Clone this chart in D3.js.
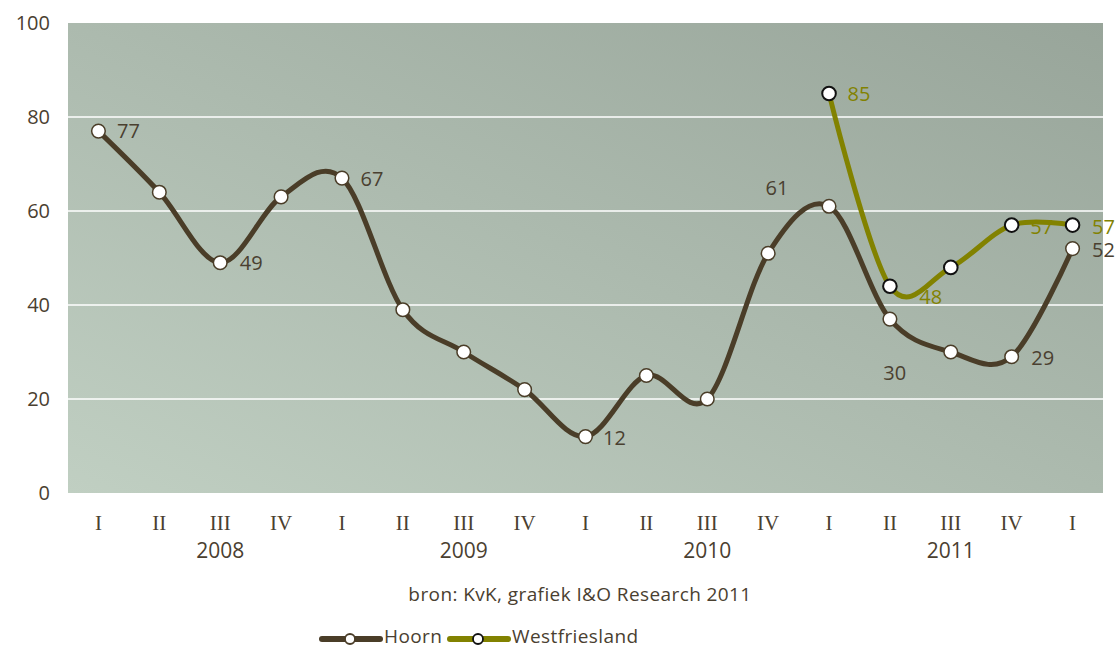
<!DOCTYPE html>
<html>
<head>
<meta charset="utf-8">
<script src="https://cdn.jsdelivr.net/npm/d3@7"></script>
<style>
  body { margin: 0; background: #fff; }
  svg { display: block; }
  .tick-y, .label { font-family: "Open Sans", sans-serif; font-size: 20px; }
  .year { font-family: "Open Sans", sans-serif; font-size: 21px; }
  .quarter { font-family: "Liberation Serif", serif; font-size: 21px; }
  .small { font-family: "Open Sans", sans-serif; font-size: 19px; letter-spacing: 0.4px; }
</style>
</head>
<body>
<svg id="chart" width="1116" height="649"></svg>
<script>
// Data
let quarters = ["I","II","III","IV","I","II","III","IV","I","II","III","IV","I","II","III","IV","I"];
let years = ["", "", "2008", "", "", "", "2009", "", "", "", "2010", "", "", "", "2011", "", ""];
let hoorn = [77, 64, 49, 63, 67, 39, 30, 22, 12, 25, 20, 51, 61, 37, 30, 29, 52];
let westfriesland = [null, null, null, null, null, null, null, null, null, null, null, null, 85, 44, 48, 57, 57];
let yTicks = [0, 20, 40, 60, 80, 100];

// Which points get a value label
let hoornLabels = [0, 2, 4, 8, 12, 14, 15, 16];
let westLabels = [12, 14, 15, 16];

// label offsets (px) relative to the point they belong to
let labelOffset = {
    hoorn: {0: [30, 0], 2: [31, 0], 4: [30, 1], 8: [29, 1], 12: [-52, -19], 14: [-56, 21], 15: [31, 1], 16: [31, 1]},
    west: {12: [30, 0], 14: [-20, 29], 15: [30, 2], 16: [31, 2]}
};

let textColor = "#4a4030";
let hoornColor = "#4a3d28";
let westColor = "#828200";

let svg = d3.select("#chart");
let plotLeft = 68, plotRight = 1103, plotTop = 23, plotBottom = 493;

let x = d3.scalePoint()
    .domain(d3.range(quarters.length))
    .range([plotLeft, plotRight])
    .padding(0.5);

let y = d3.scaleLinear()
    .domain([0, 100])
    .range([plotBottom, plotTop]);

// Background gradient
let defs = svg.append("defs");
let grad = defs.append("linearGradient")
    .attr("id", "bg")
    .attr("x1", "0%").attr("y1", "100%")
    .attr("x2", "100%").attr("y2", "0%");
grad.append("stop").attr("offset", "0%").attr("stop-color", "#c0cfc2");
grad.append("stop").attr("offset", "100%").attr("stop-color", "#98a59a");

svg.append("rect")
    .attr("x", plotLeft)
    .attr("y", plotTop)
    .attr("width", plotRight - plotLeft)
    .attr("height", plotBottom - plotTop)
    .style("fill", "url(#bg)");

// Gridlines
svg.selectAll(".grid")
    .data(yTicks.filter(function(d) { return d > 0 && d < 100; }))
    .enter().append("line")
    .attr("class", "grid")
    .attr("x1", plotLeft)
    .attr("x2", plotRight)
    .attr("y1", function(d) { return y(d); })
    .attr("y2", function(d) { return y(d); })
    .style("stroke", "#fff")
    .style("stroke-width", 1.3);

// Y tick labels
svg.selectAll(".tick-y")
    .data(yTicks)
    .enter().append("text")
    .attr("class", "tick-y")
    .attr("x", 50)
    .attr("y", function(d) { return y(d); })
    .attr("dy", "0.36em")
    .attr("text-anchor", "end")
    .style("fill", textColor)
    .text(function(d) { return d; });

// X labels
svg.selectAll(".quarter")
    .data(quarters)
    .enter().append("text")
    .attr("class", "quarter")
    .attr("x", function(d, i) { return x(i); })
    .attr("y", 530)
    .attr("text-anchor", "middle")
    .style("fill", textColor)
    .text(function(d) { return d; });

svg.selectAll(".year")
    .data(years)
    .enter().append("text")
    .attr("class", "year")
    .attr("x", function(d, i) { return x(i); })
    .attr("y", 558)
    .attr("text-anchor", "middle")
    .style("fill", textColor)
    .text(function(d) { return d; });

// Lines
let line = d3.line()
    .defined(function(d) { return d != null; })
    .x(function(d, i) { return x(i); })
    .y(function(d) { return y(d); })
    .curve(d3.curveCatmullRom.alpha(0));

svg.append("path")
    .datum(hoorn)
    .attr("d", line)
    .style("fill", "none")
    .style("stroke", hoornColor)
    .style("stroke-width", 5)
    .style("stroke-linejoin", "round");

svg.append("path")
    .datum(westfriesland)
    .attr("d", line)
    .style("fill", "none")
    .style("stroke", westColor)
    .style("stroke-width", 5)
    .style("stroke-linejoin", "round");

// Markers
svg.selectAll(".m-hoorn")
    .data(hoorn)
    .enter().append("circle")
    .attr("class", "m-hoorn")
    .attr("cx", function(d, i) { return x(i); })
    .attr("cy", function(d) { return y(d); })
    .attr("r", 6.8)
    .style("fill", "#fff")
    .style("stroke", hoornColor)
    .style("stroke-width", 1.5);

svg.selectAll(".m-west")
    .data(westfriesland.map(function(d, i) { return {v: d, i: i}; }).filter(function(d) { return d.v != null; }))
    .enter().append("circle")
    .attr("class", "m-west")
    .attr("cx", function(d) { return x(d.i); })
    .attr("cy", function(d) { return y(d.v); })
    .attr("r", 6.8)
    .style("fill", "#fff")
    .style("stroke", "#111")
    .style("stroke-width", 2);

// Value labels
function addLabels(values, idx, offsets, color) {
    svg.selectAll(null)
        .data(idx)
        .enter().append("text")
        .attr("class", "label")
        .attr("x", function(i) { return x(i) + offsets[i][0]; })
        .attr("y", function(i) { return y(values[i]) + offsets[i][1]; })
        .attr("dy", "0.36em")
        .attr("text-anchor", "middle")
        .style("fill", color)
        .text(function(i) { return values[i]; });
}
addLabels(hoorn, hoornLabels, labelOffset.hoorn, textColor);
addLabels(westfriesland, westLabels, labelOffset.west, westColor);

// Source
svg.append("text")
    .attr("class", "small")
    .attr("x", 580)
    .attr("y", 601)
    .attr("text-anchor", "middle")
    .style("fill", textColor)
    .text("bron: KvK, grafiek I&O Research 2011");

// Legend
let legend = [
    {name: "Hoorn", color: hoornColor, stroke: hoornColor, x: 322},
    {name: "Westfriesland", color: westColor, stroke: "#111", x: 450}
];
let lg = svg.selectAll(".legend")
    .data(legend)
    .enter().append("g")
    .attr("class", "legend")
    .attr("transform", function(d) { return "translate(" + d.x + ",639)"; });

lg.append("line")
    .attr("x1", 0)
    .attr("x2", 58)
    .style("stroke", function(d) { return d.color; })
    .style("stroke-width", 6)
    .style("stroke-linecap", "round");

lg.append("circle")
    .attr("cx", 28)
    .attr("r", 5)
    .style("fill", "#fff")
    .style("stroke", function(d) { return d.stroke; })
    .style("stroke-width", 1.8);

lg.append("text")
    .attr("class", "small")
    .attr("x", 62)
    .attr("y", 4)
    .style("fill", textColor)
    .text(function(d) { return d.name; });
</script>
</body>
</html>
